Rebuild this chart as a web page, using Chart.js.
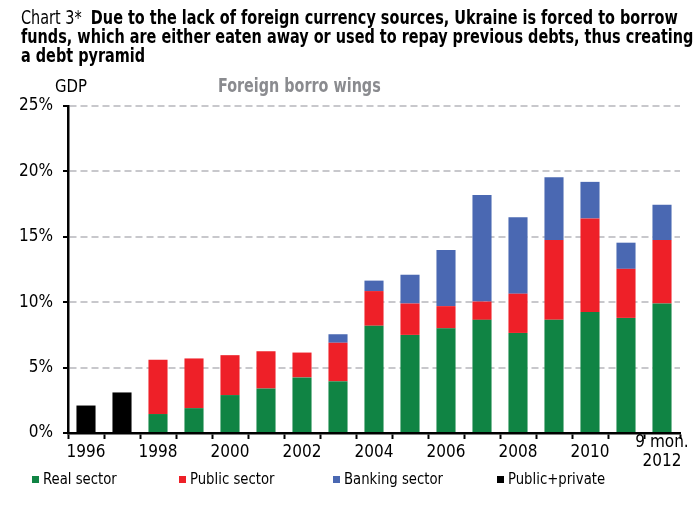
<!DOCTYPE html>
<html>
<head>
<meta charset="utf-8">
<script src="https://cdn.jsdelivr.net/npm/chart.js@4"></script>
<style>
  html, body { margin: 0; padding: 0; background: #fff; }
  #wrap { position: relative; width: 700px; height: 510px; overflow: hidden;
          font-family: "Liberation Sans Narrow", "DejaVu Sans Condensed", sans-serif; color: #000; }
  #myChart { position: absolute; left: 0; top: 0; }
  .txt { position: absolute; white-space: nowrap; transform-origin: 0 50%; }
  #title { left: 21px; top: 8px; font-size: 19px; line-height: 19px; transform: scaleX(0.845); transform-origin: 0 0; }
  #title b { font-weight: bold; }
  #gdp { left: 55px; top: 75px; font-size: 18px; transform: scaleX(0.92); }
  #sub { left: 218px; top: 74px; font-size: 19px; font-weight: bold; color: #8a8b8f; transform: scaleX(0.84); }
  #legend .sw { position: absolute; width: 7px; height: 7px; top: 476px; }
  #legend .lb { position: absolute; top: 469px; font-size: 16px; line-height: 20px; transform: scaleX(0.92); }
</style>
</head>
<body>
<div id="wrap">
  <canvas id="myChart" width="700" height="510"></canvas>
  <div id="title" class="txt">Chart 3*&nbsp; <b>Due to the lack of foreign currency sources, Ukraine is forced to borrow<br>funds, which are either eaten away or used to repay previous debts, thus creating<br>a debt pyramid</b></div>
  <div id="gdp" class="txt">GDP</div>
  <div id="sub" class="txt">Foreign borro wings</div>
  <div id="legend"></div>
</div>
<script>
const years = ['1996', '1997', '1998', '1999', '2000', '2001', '2002', '2003', '2004', '2005',
               '2006', '2007', '2008', '2009', '2010', '2011', ['9 mon.', '2012']];

// % of GDP
const realSector    = [null, null, 1.45, 1.9, 2.9, 3.4, 4.25, 3.95, 8.2, 7.5, 8.0, 8.65, 7.65, 8.65, 9.25, 8.8, 9.9];
const publicSector  = [null, null, 4.15, 3.8, 3.05, 2.85, 1.9, 2.95, 2.65, 2.4, 1.7, 1.4, 3.0, 6.1, 7.15, 3.75, 4.85];
const bankingSector = [null, null, null, null, null, null, null, 0.65, 0.8, 2.2, 4.3, 8.15, 5.85, 4.8, 2.8, 2.0, 2.7];
const publicPrivate = [2.1, 3.1, null, null, null, null, null, null, null, null, null, null, null, null, null, null, null];

const yTicks = [0, 5, 10, 15, 20, 25];

const seriesNames  = ['Real sector', 'Public sector', 'Banking sector', 'Public+private'];
const seriesColors = ['#108444', '#ee2028', '#4a68b2', '#000000'];
const legendX = [32, 179, 333, 497];

const fontFamily = '"Liberation Sans Narrow", "DejaVu Sans Condensed", sans-serif';

// legend
const legend = document.getElementById('legend');
seriesNames.forEach((name, i) => {
    const sw = document.createElement('div');
    sw.className = 'sw';
    sw.style.left = legendX[i] + 'px';
    sw.style.background = seriesColors[i];
    const lb = document.createElement('div');
    lb.className = 'lb txt';
    lb.style.left = (legendX[i] + 11) + 'px';
    lb.textContent = name;
    legend.appendChild(sw);
    legend.appendChild(lb);
});

const seriesData = [realSector, publicSector, bankingSector, publicPrivate];

const ctx = document.getElementById('myChart').getContext('2d');
const myChart = new Chart(ctx, {
    type: 'bar',
    data: {
        labels: years,
        datasets: seriesNames.map((name, i) => ({
            label: name,
            data: seriesData[i],
            backgroundColor: seriesColors[i],
            borderWidth: 0,
            categoryPercentage: 1,
            barPercentage: 0.53
        }))
    },
    options: {
        responsive: false,
        animation: false,
        layout: {
            padding: { left: 0, right: 20, top: 106, bottom: 40 }
        },
        plugins: {
            legend: { display: false },
            title: { display: false },
            tooltip: { enabled: false }
        },
        scales: {
            x: {
                stacked: true,
                grid: {
                    drawOnChartArea: false,
                    drawTicks: true,
                    tickLength: 6,
                    tickWidth: 2,
                    tickColor: '#000',
                    tickBorderDash: []
                },
                border: { color: '#000', width: 2.5 },
                ticks: {
                    autoSkip: false,
                    maxRotation: 0,
                    padding: 4,
                    crossAlign: 'center',
                    color: '#000',
                    font: { family: fontFamily, size: 17, lineHeight: 1.12 },
                    callback: function (value, index) {
                        return index % 2 === 0 ? this.getLabelForValue(value) : '';
                    }
                },
                afterFit: (s) => { s.height = 37; }
            },
            y: {
                stacked: true,
                min: 0,
                max: 25,
                afterBuildTicks: (s) => { s.ticks = yTicks.map(v => ({ value: v })); },
                grid: {
                    color: '#c8c8cc',
                    lineWidth: 2,
                    drawTicks: true,
                    tickLength: 5,
                    tickWidth: 2,
                    tickColor: '#000',
                    tickBorderDash: []
                },
                border: { color: '#000', width: 2.5, dash: [7, 4] },
                ticks: {
                    padding: 10,
                    color: '#000',
                    font: { family: fontFamily, size: 17 },
                    callback: (v) => v + '%'
                },
                afterFit: (s) => { s.width = 68; }
            }
        }
    }
});
</script>
</body>
</html>
